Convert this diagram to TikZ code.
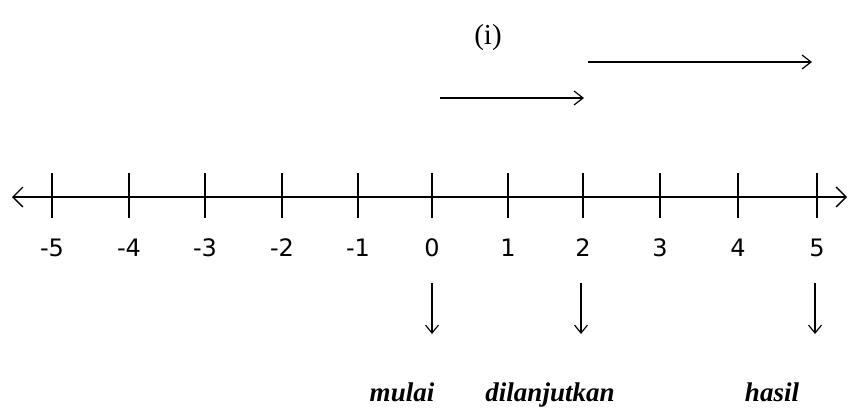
\documentclass[tikz,border=0pt]{standalone}
\usepackage{fontspec}
\setmainfont{Liberation Serif}
\newfontfamily\numfont{DejaVu Sans}
\usetikzlibrary{arrows.meta}
\begin{document}
\begin{tikzpicture}[x=1pt,y=-1pt,
  axis/.style={line width=1.3pt},
  tick/.style={line width=1.6pt},
  numlbl/.style={font=\numfont\fontsize{24}{24}\selectfont, anchor=base},
  vec/.style={line width=1.2pt,-{Straight Barb[length=9pt,width=14pt,line width=1.2pt]}},
  down/.style={line width=1.2pt,-{Straight Barb[length=8pt,width=13pt,line width=1.2pt]}},
  word/.style={font=\fontsize{27}{27}\selectfont\bfseries\itshape, anchor=base}]
\useasboundingbox (0,0) rectangle (848,410);
% axis
\coordinate (L) at (12,197);
\coordinate (R) at (847,197);
\draw[axis,{Straight Barb[length=10pt,width=20pt,line width=1.3pt]}-{Straight Barb[length=10pt,width=20pt,line width=1.3pt]}] (L) -- (R);
% ticks and labels
\foreach \v/\x in {-5/52,-4/129,-3/205,-2/282,-1/358,0/432,1/508,2/583,3/660,4/738,5/817}{
  \coordinate (t\v) at (\x,197);
  \draw[tick] (\x,173) -- (\x,218);
  \node[numlbl] (n\v) at (\x,256) {\ifnum\v<0 -\the\numexpr-\v\relax\else\v\fi};
}
% title
\node[font=\fontsize{29}{29}\selectfont] (ttl) at (488,38) {(i)};
% vectors
\coordinate (a0) at (440,98);
\coordinate (a2) at (584,98);
\coordinate (b2) at (588,62);
\coordinate (b5) at (812,62);
\draw[vec] (a0) -- (a2);
\draw[vec] (b2) -- (b5);
% down arrows and words
\node[word] (w0) at (402,401) {mulai};
\node[word] (w2) at (550,401) {dilanjutkan};
\node[word] (w5) at (772,401) {hasil};
\coordinate (d0a) at (432,283); \coordinate (d0b) at (432,334);
\coordinate (d2a) at (581,283); \coordinate (d2b) at (581,334);
\coordinate (d5a) at (815,283); \coordinate (d5b) at (815,334);
\draw[down] (d0a) -- (d0b);
\draw[down] (d2a) -- (d2b);
\draw[down] (d5a) -- (d5b);
\end{tikzpicture}
\end{document}
